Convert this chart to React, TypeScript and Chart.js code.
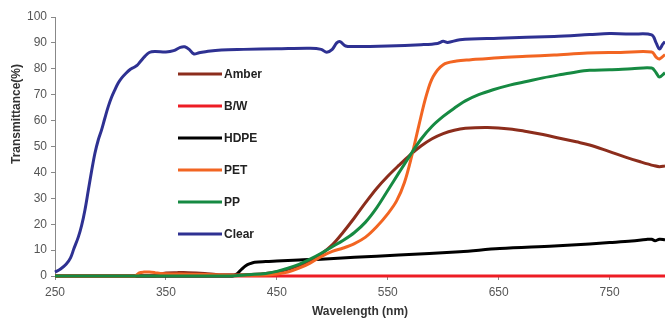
import React, { useEffect, useRef } from "react";
import { Chart, registerables } from "chart.js";

Chart.register(...registerables);

const seriesNames = ["Amber", "B/W", "HDPE", "PET", "PP", "Clear"];
const seriesColors = ["#8C2D1C", "#ED1C24", "#000000", "#F26522", "#168A42", "#2E3192"];
const drawOrder = [2, 5, 3, 1, 0, 4];

const xTickValues = [250, 350, 450, 550, 650, 750];

const amberX = [250, 340, 345, 350, 360, 370, 385, 395, 400, 420, 440, 455, 470, 480, 490, 500, 510, 520, 530, 540, 550, 560, 570, 580, 590, 600, 610, 620, 640, 660, 675, 690, 705, 720, 732, 750, 765, 777, 790, 795, 800];
const amberY = [0, 0, 0.8, 1.2, 1.3, 1.3, 1.0, 0.6, 0.5, 0.5, 1, 2, 4, 6, 8.5, 12, 17, 22.5, 28.3, 33.8, 38.5, 42.7, 46.7, 50.2, 53, 55, 56.3, 57, 57.3, 56.8, 55.8, 54.6, 53.2, 51.8, 50.6, 48, 45.8, 44.2, 42.6, 42.2, 42.5];

const bwX = [250, 400, 550, 800];
const bwY = [0, 0, 0, 0];

const hdpeX = [250, 410, 414, 418, 422, 426, 430, 440, 450, 470, 490, 520, 560, 615, 651, 700, 732, 750, 770, 783, 788, 791, 795, 800];
const hdpeY = [0, 0, 0.8, 2.5, 4, 4.8, 5.3, 5.6, 5.8, 6.2, 6.5, 7.2, 8.1, 9.4, 10.6, 11.6, 12.4, 12.9, 13.5, 14.1, 14.2, 13.6, 14.2, 14];

const petX = [250, 322, 326, 330, 335, 340, 345, 355, 370, 400, 420, 440, 450, 460, 470, 480, 490, 500, 510, 520, 530, 540, 550, 558, 565, 572, 578, 585, 591, 600, 612, 625, 650, 675, 700, 730, 760, 788, 792, 795, 800];
const petY = [0, 0, 1.2, 1.5, 1.5, 1.3, 1.0, 0.8, 0.7, 0.4, 0.3, 0.4, 0.8, 1.5, 3, 5, 7.5, 9.5, 10.8, 12.5, 15, 19, 24, 29, 36, 47, 58, 70, 77, 81.6, 83, 83.5, 84.3, 84.8, 85.3, 86.1, 86.3, 86.5, 84.5, 83.8, 85.5];

const ppX = [250, 405, 415, 425, 440, 450, 460, 470, 480, 490, 500, 510, 520, 530, 540, 550, 560, 570, 580, 590, 600, 610, 620, 632, 645, 660, 675, 690, 705, 720, 732, 750, 770, 788, 792, 795, 800];
const ppY = [0, 0, 0.2, 0.5, 1, 1.8, 3, 4.5, 6.5, 8.8, 11.3, 13.8, 16.8, 20.8, 26.3, 33, 39.8, 46.5, 52.8, 57.8, 61.6, 64.8, 67.6, 70, 71.9, 73.7, 75.1, 76.5, 77.7, 78.8, 79.4, 79.6, 80, 80.3, 78.5, 76.8, 78.5];

const clearX = [250, 255, 260, 264, 267, 271, 274, 277, 280, 283, 286, 289, 292, 295, 298, 301, 304, 307, 310, 314, 318, 321, 324, 327, 331, 335, 340, 350, 357, 363, 367, 371, 375, 380, 388, 400, 420, 450, 480, 490, 495, 500, 504, 507, 512, 520, 550, 580, 595, 600, 604, 615, 650, 700, 732, 750, 770, 788, 792, 795, 798, 800];
const clearY = [1.5, 2.7, 4.5, 7, 10.5, 15, 19.5, 25.5, 33, 40.5, 47.4, 52.5, 56.4, 61, 65.4, 69, 71.9, 74.5, 76.4, 78.3, 79.8, 80.5, 81.3, 82.8, 84.8, 86.3, 86.7, 86.5, 87, 88.3, 88.5, 87.5, 85.8, 86.2, 86.8, 87.3, 87.5, 87.7, 87.9, 87.5, 86.4, 87.5, 90, 90.5, 88.8, 88.6, 88.8, 89.3, 89.8, 90.6, 90.2, 91.2, 91.8, 92.5, 93.2, 93.6, 93.4, 93.1, 90, 87.6, 89.5, 90.5];

const seriesX = [amberX, bwX, hdpeX, petX, ppX, clearX];
const seriesY = [amberY, bwY, hdpeY, petY, ppY, clearY];

const FONT = "'Liberation Sans', Arial, sans-serif";

const overlayPlugin = {
  id: "overlayText",
  afterDraw(chart: any) {
    const ctx = chart.ctx;
    ctx.save();
    ctx.font = `bold 12px ${FONT}`;
    ctx.textBaseline = "middle";
    ctx.textAlign = "left";
    chart.data.datasets.forEach((ds: any, i: number) => {
      const y = 74 + 32 * i;
      ctx.strokeStyle = ds.borderColor;
      ctx.lineWidth = 3;
      ctx.beginPath();
      ctx.moveTo(178, y);
      ctx.lineTo(222, y);
      ctx.stroke();
      ctx.fillStyle = "#222222";
      ctx.fillText(ds.label, 224, y + 0.5);
    });
    ctx.translate(17, 114);
    ctx.rotate(-Math.PI / 2);
    ctx.textAlign = "center";
    ctx.fillStyle = "#333333";
    ctx.font = `bold 12px ${FONT}`;
    ctx.fillText("Transmittance(%)", 0, 0);
    ctx.restore();
  },
};

export default function App() {
  const ref = useRef<HTMLCanvasElement | null>(null);
  useEffect(() => {
    if (!ref.current) return;
    const datasets = seriesNames.map((name, i) => ({
      label: name,
      data: seriesX[i].map((x, j) => ({ x, y: seriesY[i][j] })),
      borderColor: seriesColors[i],
      backgroundColor: seriesColors[i],
      borderWidth: 3,
      pointRadius: 0,
      tension: 0.35,
      order: drawOrder[i],
      clip: 5,
    }));
    const chart = new Chart(ref.current, {
      type: "line",
      data: { datasets },
      plugins: [overlayPlugin],
      options: {
        responsive: false,
        animation: false,
        events: [],
        layout: { padding: { top: 17, right: 0, left: 0, bottom: 0 } },
        plugins: { legend: { display: false }, tooltip: { enabled: false } },
        scales: {
          x: {
            type: "linear",
            min: 250,
            max: 800,
            afterBuildTicks: (scale: any) => {
              scale.ticks = xTickValues.map((v) => ({ value: v }));
            },
            afterFit: (scale: any) => {
              scale.height = 46;
            },
            grid: { drawOnChartArea: false, drawTicks: true, tickLength: 4, color: "#888888" },
            border: { color: "#888888", width: 1 },
            ticks: { color: "#555555", font: { family: FONT, size: 12 }, padding: 5, maxRotation: 0, autoSkip: false },
            title: {
              display: true,
              text: "Wavelength (nm)",
              color: "#333333",
              font: { family: FONT, size: 12, weight: "bold" },
              padding: { top: 0, bottom: 3 },
            },
          },
          y: {
            type: "linear",
            min: 0,
            max: 100,
            afterFit: (scale: any) => {
              scale.width = 55;
            },
            grid: { drawOnChartArea: false, drawTicks: true, tickLength: 4, color: "#888888" },
            border: { color: "#888888", width: 1 },
            ticks: { stepSize: 10, color: "#555555", font: { family: FONT, size: 12 }, padding: 4 },
          },
        },
      },
    });
    return () => chart.destroy();
  }, []);
  return (
    <div style={{ position: "fixed", left: 0, top: 0, width: 665, height: 322, background: "#ffffff" }}>
      <canvas ref={ref} width={665} height={322} style={{ width: 665, height: 322, display: "block" }} />
    </div>
  );
}
